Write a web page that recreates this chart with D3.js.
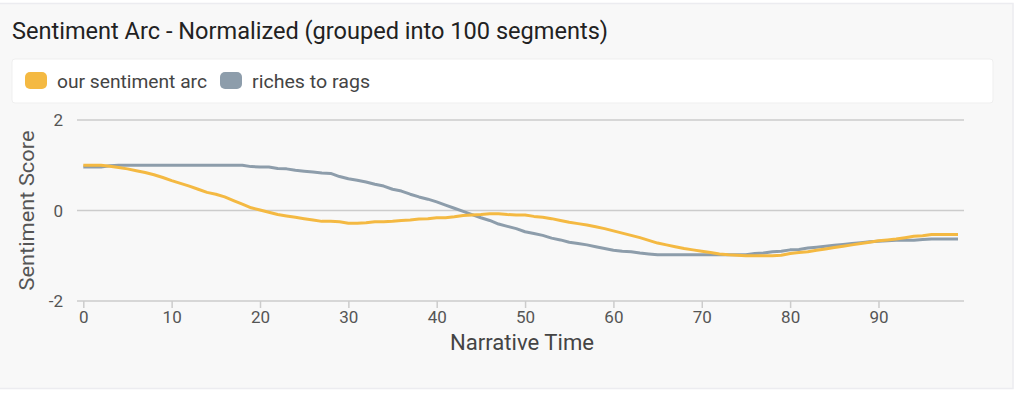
<!DOCTYPE html>
<html>
<head>
<meta charset="utf-8">
<script src="https://cdn.jsdelivr.net/npm/d3@7"></script>
<style>
  body { margin: 0; background: #ffffff; }
  svg { display: block; }
  text { font-family: Roboto, "Noto Sans", sans-serif; }
</style>
</head>
<body>
<svg width="1024" height="395"></svg>
<script>
const ourArc = [
  1.00, 1.00, 1.00, 0.98, 0.95, 0.92, 0.88, 0.84, 0.79, 0.73,
  0.66, 0.60, 0.54, 0.47, 0.40, 0.36, 0.30, 0.22, 0.14, 0.06,
  0.01, -0.04, -0.09, -0.12, -0.15, -0.18, -0.21, -0.24, -0.24, -0.25,
  -0.28, -0.28, -0.27, -0.25, -0.25, -0.24, -0.22, -0.21, -0.19, -0.18,
  -0.16, -0.16, -0.14, -0.11, -0.10, -0.09, -0.07, -0.07, -0.09, -0.10,
  -0.10, -0.13, -0.15, -0.18, -0.22, -0.26, -0.29, -0.32, -0.36, -0.40,
  -0.45, -0.50, -0.55, -0.60, -0.66, -0.72, -0.76, -0.80, -0.84, -0.87,
  -0.90, -0.93, -0.96, -0.98, -0.99, -1.00, -1.00, -1.00, -1.00, -0.99,
  -0.95, -0.93, -0.91, -0.88, -0.85, -0.82, -0.79, -0.76, -0.73, -0.70,
  -0.67, -0.65, -0.63, -0.60, -0.57, -0.56, -0.53, -0.53, -0.53, -0.53
];

const richesToRags = [
  0.96, 0.96, 0.96, 0.99, 1.00, 1.00, 1.00, 1.00, 1.00, 1.00,
  1.00, 1.00, 1.00, 1.00, 1.00, 1.00, 1.00, 1.00, 1.00, 0.97,
  0.96, 0.96, 0.93, 0.92, 0.89, 0.87, 0.85, 0.83, 0.82, 0.75,
  0.70, 0.67, 0.63, 0.58, 0.54, 0.47, 0.43, 0.36, 0.30, 0.25,
  0.19, 0.12, 0.05, -0.02, -0.09, -0.16, -0.22, -0.30, -0.35, -0.40,
  -0.47, -0.51, -0.55, -0.61, -0.65, -0.70, -0.73, -0.76, -0.80, -0.84,
  -0.88, -0.90, -0.91, -0.94, -0.96, -0.98, -0.98, -0.98, -0.98, -0.98,
  -0.98, -0.98, -0.98, -0.98, -0.98, -0.98, -0.95, -0.94, -0.91, -0.90,
  -0.87, -0.86, -0.83, -0.81, -0.79, -0.77, -0.75, -0.73, -0.71, -0.69,
  -0.68, -0.67, -0.66, -0.66, -0.66, -0.64, -0.63, -0.63, -0.63, -0.63
];

const seriesNames = ["our sentiment arc", "riches to rags"];
const seriesColors = ["#f4b942", "#8d9dab"];
const xTicks = [0, 10, 20, 30, 40, 50, 60, 70, 80, 90];
const yTicks = [-2, 0, 2];

const narrow = "'Liberation Sans Narrow', 'DejaVu Sans Condensed', Roboto, sans-serif";
const svg = d3.select("svg");

// panel
svg.append("rect")
  .attr("x", 0).attr("y", 0).attr("width", 1024).attr("height", 395)
  .attr("fill", "#ffffff");
svg.append("rect")
  .attr("x", -2).attr("y", 3.5).attr("width", 1015).attr("height", 385)
  .attr("fill", "#f8f8f8")
  .attr("stroke", "#ececf0")
  .attr("stroke-width", 1.5);

// title
svg.append("text")
  .attr("x", 12).attr("y", 38.5)
  .attr("font-size", 23)
  .attr("fill", "#222")
  .attr("textLength", 596)
  .attr("lengthAdjust", "spacingAndGlyphs")
  .text("Sentiment Arc - Normalized (grouped into 100 segments)");

// legend box
svg.append("rect")
  .attr("x", 12).attr("y", 59).attr("width", 981).attr("height", 44)
  .attr("rx", 3)
  .attr("fill", "#ffffff")
  .attr("stroke", "#efefef");

const legendX = [25, 220];
const legendW = [150, 118];
seriesNames.forEach((name, i) => {
  svg.append("rect")
    .attr("x", legendX[i]).attr("y", 72)
    .attr("width", 22).attr("height", 17)
    .attr("rx", 5)
    .attr("fill", seriesColors[i]);
  svg.append("text")
    .attr("x", legendX[i] + 32).attr("y", 87.5)
    .attr("font-size", 18)
    .attr("fill", "#444")
    .attr("textLength", legendW[i])
    .attr("lengthAdjust", "spacingAndGlyphs")
    .text(name);
});

// scales
const xScale = d3.scaleLinear().domain([0, 99]).range([83.3, 958]);
const yScale = d3.scaleLinear().domain([-2, 2]).range([301, 120]);
const gridLeft = 77, gridRight = 964;

const g = svg.append("g");

g.selectAll(".grid")
  .data(yTicks)
  .enter()
  .append("line")
  .attr("x1", gridLeft).attr("x2", gridRight)
  .attr("y1", (d) => yScale(d)).attr("y2", (d) => yScale(d))
  .attr("stroke", "#cccccc")
  .attr("stroke-width", 1.5);

// y labels
g.selectAll(".ylabel")
  .data(yTicks)
  .enter()
  .append("text")
  .attr("x", 63)
  .attr("y", (d) => yScale(d) + 6)
  .attr("text-anchor", "end")
  .attr("font-size", 17)
  .attr("font-family", narrow)
  .attr("fill", "#555")
  .text((d) => d);

// x axis
const xAxis = d3.axisBottom(xScale)
  .tickValues(xTicks)
  .tickSize(7)
  .tickPadding(3);
const xAxisG = g.append("g")
  .attr("transform", `translate(0, ${yScale(-2)})`)
  .call(xAxis);
xAxisG.select(".domain").remove();
xAxisG.selectAll(".tick line").attr("stroke", "#cccccc").attr("stroke-width", 1.5);
xAxisG.selectAll(".tick text")
  .attr("font-size", 17)
  .attr("fill", "#555")
  .attr("font-family", narrow);

svg.append("text")
  .attr("x", 522).attr("y", 350)
  .attr("text-anchor", "middle")
  .attr("font-size", 22)
  .attr("fill", "#444")
  .attr("textLength", 144)
  .attr("lengthAdjust", "spacingAndGlyphs")
  .text("Narrative Time");

svg.append("text")
  .attr("transform", `translate(34, ${yScale(0)}) rotate(-90)`)
  .attr("text-anchor", "middle")
  .attr("font-size", 21)
  .attr("fill", "#555")
  .attr("textLength", 160)
  .attr("lengthAdjust", "spacingAndGlyphs")
  .text("Sentiment Score");

// lines
const lineGen = d3.line()
  .x((d, i) => xScale(i))
  .y((d) => yScale(d));

[richesToRags, ourArc].forEach((series, k) => {
  g.append("path")
    .attr("d", lineGen(series))
    .attr("fill", "none")
    .attr("stroke", k === 0 ? seriesColors[1] : seriesColors[0])
    .attr("stroke-width", 3)
    .attr("stroke-linejoin", "round");
});
</script>
</body>
</html>
